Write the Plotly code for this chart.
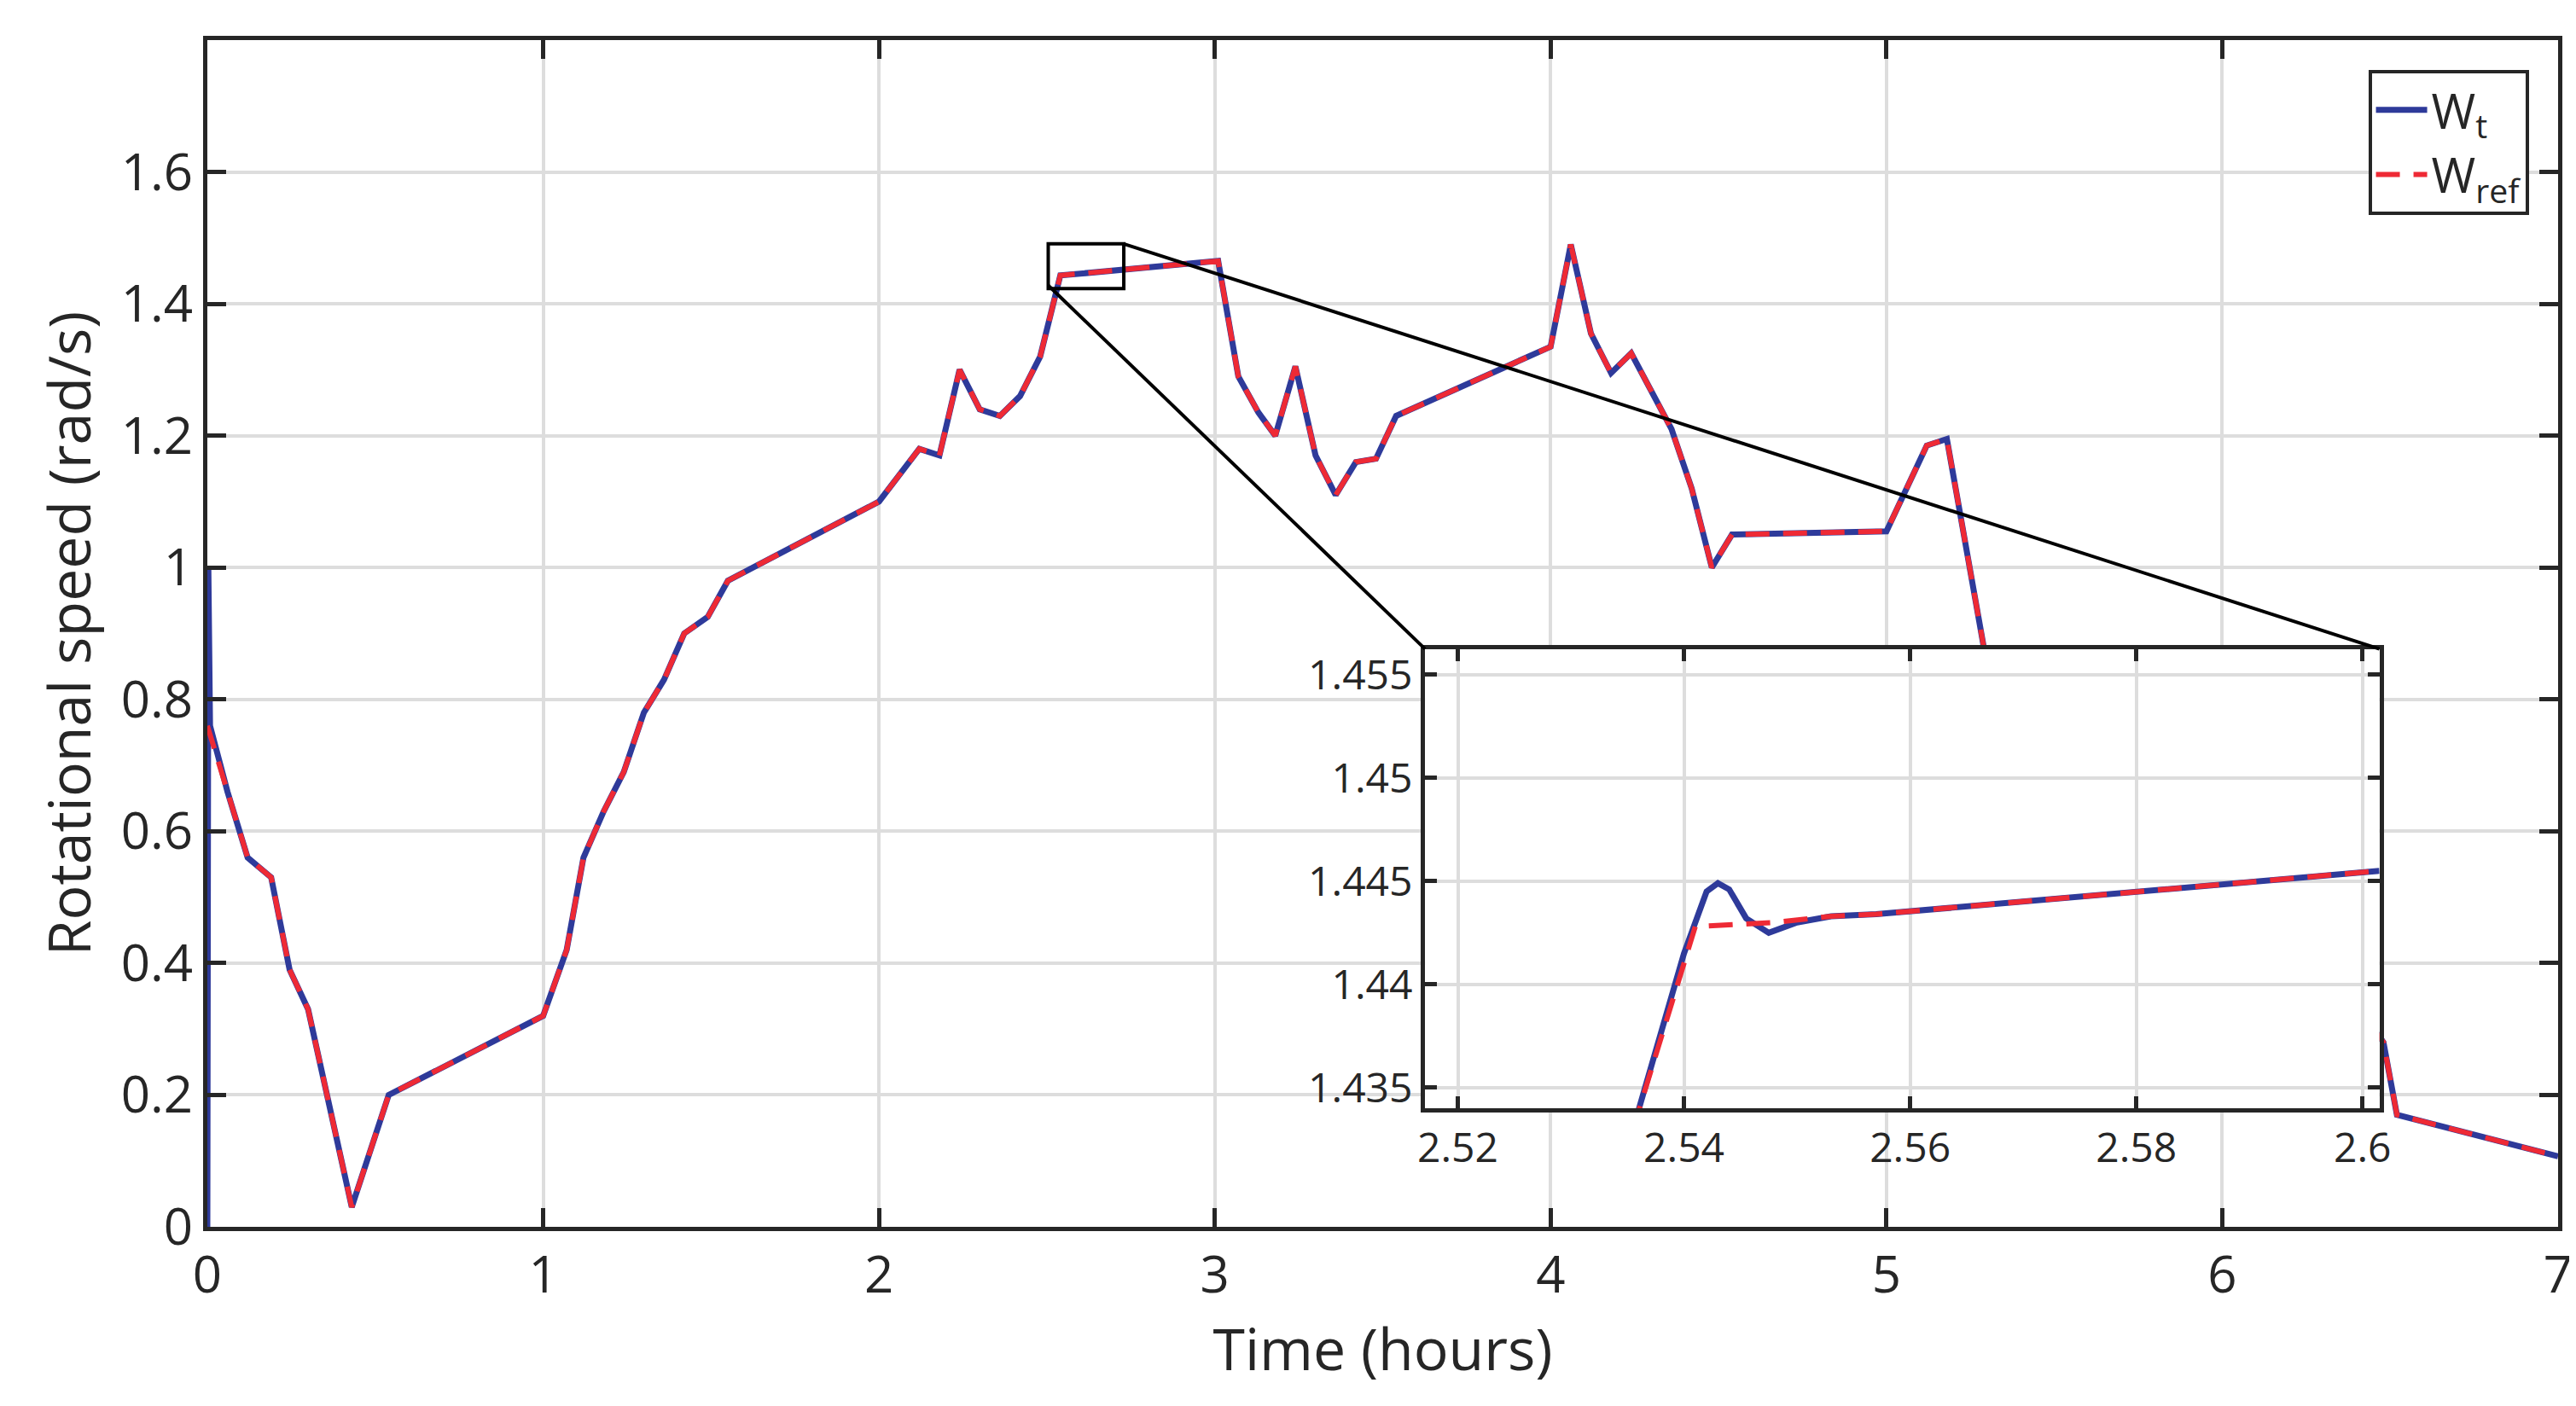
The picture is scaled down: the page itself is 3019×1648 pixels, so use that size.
import plotly.graph_objects as go

# main series (hours, rad/s)
t_ref = [0.0, 0.06, 0.12, 0.19, 0.245, 0.30, 0.43, 0.54, 1.0, 1.07, 1.12, 1.18, 1.24, 1.30, 1.36,
         1.42, 1.49, 1.55, 2.0, 2.06, 2.12, 2.18, 2.24, 2.30, 2.36, 2.42, 2.48, 2.54, 3.01, 3.07,
         3.13, 3.18, 3.24, 3.30, 3.36, 3.42, 3.48, 3.54, 4.0, 4.06, 4.12, 4.18, 4.24, 4.36, 4.42,
         4.48, 4.54, 5.0, 5.12, 5.18, 5.3, 5.5, 5.8, 6.0, 6.2, 6.45, 6.48, 6.52, 7.0]
w_ref = [0.76, 0.66, 0.56, 0.53, 0.39, 0.33, 0.03, 0.2, 0.32, 0.42, 0.56, 0.63, 0.69, 0.78, 0.83,
         0.9, 0.925, 0.98, 1.1, 1.14, 1.18, 1.17, 1.3, 1.24, 1.23, 1.26, 1.32, 1.443, 1.465, 1.29,
         1.235, 1.2, 1.305, 1.17, 1.11, 1.16, 1.165, 1.23, 1.335, 1.49, 1.355, 1.295, 1.325, 1.21, 1.12,
         1.0, 1.05, 1.055, 1.185, 1.195, 0.85, 0.72, 0.6, 0.52, 0.42, 0.3, 0.28, 0.17, 0.107]
t_wt = [0.0, 0.003, 0.008] + t_ref[1:]
w_wt = [0.0, 1.0, 0.76] + w_ref[1:]

# inset detail series
ti_wt = [2.5355, 2.5400, 2.5420, 2.5430, 2.5440, 2.5455, 2.5475, 2.5500, 2.5530, 2.5570, 2.6015]
wi_wt = [1.4330, 1.4415, 1.4445, 1.4449, 1.4446, 1.4432, 1.4425, 1.4430, 1.4433, 1.4434, 1.4455]
ti_ref = [2.5355, 2.5410, 2.5480, 2.5530, 2.5570, 2.6015]
wi_ref = [1.4330, 1.4428, 1.4430, 1.4433, 1.4434, 1.4455]

x_ticks = [0, 1, 2, 3, 4, 5, 6, 7]
y_ticks = [0, 0.2, 0.4, 0.6, 0.8, 1, 1.2, 1.4, 1.6, 1.8]
xi_ticks = [2.52, 2.54, 2.56, 2.58, 2.6]
yi_ticks = [1.435, 1.44, 1.445, 1.45, 1.455]

BLUE = "#2e3a9a"
RED = "#ee2a35"
FONT = "Open Sans"
GRID = "#dddddd"
AX = "#262626"
DASH = "28px,16px"

fig = go.Figure()
fig.add_trace(go.Scatter(x=t_wt, y=w_wt, mode="lines", name="W<sub>t</sub>",
                         line=dict(color=BLUE, width=7)))
fig.add_trace(go.Scatter(x=t_ref, y=w_ref, mode="lines", name="W<sub>ref</sub>",
                         line=dict(color=RED, width=6, dash=DASH)))
fig.add_trace(go.Scatter(x=ti_wt, y=wi_wt, mode="lines", showlegend=False,
                         line=dict(color=BLUE, width=7), xaxis="x2", yaxis="y2"))
fig.add_trace(go.Scatter(x=ti_ref, y=wi_ref, mode="lines", showlegend=False,
                         line=dict(color=RED, width=6, dash=DASH), xaxis="x2", yaxis="y2"))

xr = [0, 7]
yr = [0, 1.8]
xir = [2.5171, 2.6015]
yir = [1.434, 1.45625]
dom_x2 = [0.518, 0.924]
dom_y2 = [0.0999, 0.487]

def px(x):
    return (x - xr[0]) / (xr[1] - xr[0])
def py(y):
    return (y - yr[0]) / (yr[1] - yr[0])

bx0, bx1, by0, by1 = 2.504, 2.729, 1.423, 1.491
shapes = [
    dict(type="rect", xref="x", yref="y", x0=bx0, x1=bx1, y0=by0, y1=by1,
         line=dict(color="black", width=4)),
    dict(type="line", xref="paper", yref="paper", x0=px(bx1), y0=py(by1), x1=dom_x2[1], y1=dom_y2[1],
         line=dict(color="black", width=4)),
    dict(type="line", xref="paper", yref="paper", x0=px(bx0), y0=py(by0 + 0.005), x1=dom_x2[0], y1=dom_y2[1],
         line=dict(color="black", width=4)),
    dict(type="rect", xref="paper", yref="paper", x0=dom_x2[0], x1=dom_x2[1], y0=dom_y2[0], y1=dom_y2[1],
         fillcolor="white", line=dict(width=0), layer="below"),
]

axis_common = dict(showgrid=True, gridcolor=GRID, gridwidth=4, zeroline=False, showline=True,
                   linecolor=AX, linewidth=5, mirror="ticks", ticks="inside", ticklen=22,
                   tickwidth=5, tickcolor=AX)

fig.update_layout(
    width=3019, height=1648,
    margin=dict(l=235, r=25, t=39, b=218),
    paper_bgcolor="white", plot_bgcolor="white",
    font=dict(family=FONT, color=AX, size=60),
    xaxis=dict(range=xr, tickvals=x_ticks, title=dict(text="Time (hours)", font=dict(size=68), standoff=14),
               **axis_common),
    yaxis=dict(range=yr, tickvals=y_ticks, ticktext=["0", "0.2", "0.4", "0.6", "0.8", "1", "1.2", "1.4", "1.6", "1.8"],
               title=dict(text="Rotational speed (rad/s)", font=dict(size=68), standoff=14), **axis_common),
    xaxis2=dict(domain=dom_x2, anchor="y2", range=xir, tickvals=xi_ticks,
                ticktext=["2.52", "2.54", "2.56", "2.58", "2.6"], tickfont=dict(size=48),
                **{**axis_common, "ticklen": 14}),
    yaxis2=dict(domain=dom_y2, anchor="x2", range=yir, tickvals=yi_ticks,
                ticktext=["1.435", "1.44", "1.445", "1.45", "1.455"], tickfont=dict(size=48),
                **{**axis_common, "ticklen": 14}),
    legend=dict(x=0.9875, y=0.975, xanchor="right", yanchor="top", bgcolor="white",
                bordercolor=AX, borderwidth=4, font=dict(size=56), tracegroupgap=10, itemwidth=60),
    shapes=shapes,
)
fig.write_html("out.html")
